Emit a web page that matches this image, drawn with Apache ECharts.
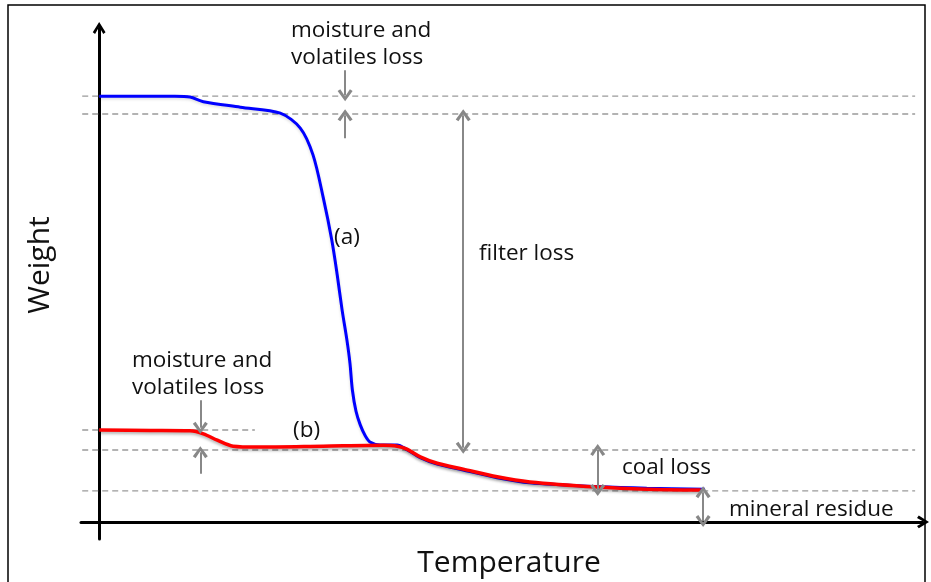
<!DOCTYPE html>
<html>
<head>
<meta charset="utf-8">
<script src="https://cdn.jsdelivr.net/npm/echarts@6/dist/echarts.min.js"></script>
<style>html,body{margin:0;padding:0;background:#fff;}#chart{width:931px;height:582px;}</style>
</head>
<body>
<div id="chart"></div>
<script>
// Temperature (arbitrary units) and weights (arbitrary units)
const tempA = [0, 12.5, 15.0, 17.2, 23.3, 29.9, 33.2, 35.3, 37.0, 38.4, 39.3, 40.1, 40.9, 41.4, 41.8, 42.4, 43.1, 43.9, 44.7, 46.4, 49.2, 50.8, 53.0, 55.8, 60.1, 65.7, 71.1, 82.2, 90.4, 100];
const weightA = [100, 100, 99.8, 98.7, 97.4, 96.0, 92.5, 86.2, 76.1, 66.2, 58.0, 49.8, 42.7, 37.3, 31.0, 26.0, 22.8, 20.3, 18.8, 18.1, 18.1, 17.0, 15.1, 13.6, 12.2, 10.4, 9.2, 8.3, 7.9, 7.7];
const tempB = [0, 8.4, 15.0, 17.2, 19.5, 22.1, 26.1, 37.0, 46.9, 49.2, 50.8, 53.0, 55.8, 60.1, 65.7, 71.1, 82.2, 90.4, 99.3];
const weightB = [21.6, 21.5, 21.4, 20.7, 19.2, 17.8, 17.6, 17.8, 18.0, 17.8, 17.1, 15.3, 13.8, 12.4, 10.6, 9.4, 8.2, 7.7, 7.5];
// dashed reference levels
const dashLevels = [100, 95.8, 16.9, 7.3];
const shortDashLevel = 21.6;
const dashStart = -2.8, dashEnd = 134.7, shortDashEnd = 25.7;
// annotation arrows: x, from, to, double-headed?
const arrowsX = [40.6, 40.6, 60.1, 16.7, 16.7, 82.3, 99.7];
const arrowsFrom = [106.1, 90.1, 95.5, 28.6, 11.3, 16.9, 7.0];
const arrowsTo = [100.2, 95.5, 17.4, 22.1, 16.4, 7.5, 0.2];
const arrowsDouble = [false, false, true, false, false, true, true];
const labels = ['moisture and', 'volatiles loss', '(a)', 'filter loss', 'moisture and', 'volatiles loss', '(b)', 'coal loss', 'mineral residue'];
const axisTitles = ['Temperature', 'Weight'];

const FONT = '"Open Sans", "Noto Sans", sans-serif';
const chevron = 'path://M0,8 L5,0 L10,8 L8.2,9.4 L5,3.8 L1.8,9.4 Z';

const series = [];
dashLevels.forEach((lv) => {
  series.push({type: 'line', data: [[dashStart, lv], [dashEnd, lv]], symbol: 'none', silent: true,
    lineStyle: {color: '#9a9a9a', width: 1.3, type: [6, 4]}, z: 1});
});
series.push({type: 'line', data: [[dashStart, shortDashLevel], [shortDashEnd, shortDashLevel]], symbol: 'none', silent: true,
  lineStyle: {color: '#9a9a9a', width: 1.3, type: [6, 4]}, z: 1});

series.push({type: 'line', name: '(a)', data: tempA.map((t, i) => [t, weightA[i]]), symbol: 'none', smooth: 0.3,
  lineStyle: {color: '#0000ff', width: 3, shadowColor: 'rgba(0,0,0,0.15)', shadowBlur: 3, shadowOffsetY: 1.5}, z: 3});
series.push({type: 'line', name: '(b)', data: tempB.map((t, i) => [t, weightB[i]]), symbol: 'none', smooth: 0.3,
  lineStyle: {color: '#ff0000', width: 3.5, shadowColor: 'rgba(0,0,0,0.3)', shadowBlur: 3, shadowOffsetY: 2}, z: 4});

series.push({type: 'line', data: [], silent: true,
  markLine: {silent: true, animation: false, label: {show: false},
    lineStyle: {color: '#888', width: 2, type: 'solid'},
    data: arrowsX.map((x, i) => [
      {coord: [x, arrowsFrom[i]], symbol: arrowsDouble[i] ? chevron : 'none', symbolSize: [15, 12]},
      {coord: [x, arrowsTo[i]], symbol: chevron, symbolSize: [15, 12]}
    ])
  }, z: 2});

const textPos = [[291, 31], [291, 58], [334, 238], [479, 254], [132, 361], [132, 388], [293, 431], [622, 468], [729, 510]];
const graphics = labels.map((t, i) => ({type: 'text', x: textPos[i][0], y: textPos[i][1],
  style: {text: t, font: '22.5px ' + FONT, fill: '#111', align: 'left', verticalAlign: 'middle'}, z: 10}));
graphics.push({type: 'text', x: 509, y: 563, style: {text: axisTitles[0], font: '30px ' + FONT, fill: '#111', align: 'center', verticalAlign: 'middle'}});
graphics.push({type: 'text', x: 40, y: 265, rotation: Math.PI / 2, style: {text: axisTitles[1], font: '30px ' + FONT, fill: '#111', align: 'center', verticalAlign: 'middle'}});
graphics.push({type: 'rect', shape: {x: 8, y: 5, width: 917, height: 600}, style: {fill: 'none', stroke: '#000', lineWidth: 1.5}, silent: true});

const chart = echarts.init(document.getElementById('chart'), null, {renderer: 'canvas'});
chart.setOption({
  animation: false,
  backgroundColor: '#fff',
  grid: {left: 81, right: 8, top: 28, bottom: 43},
  xAxis: {type: 'value', min: -3, max: 136,
    axisLine: {onZero: true, lineStyle: {color: '#000', width: 3}, symbol: ['none', chevron], symbolSize: [16, 12]},
    axisTick: {show: false}, axisLabel: {show: false}, splitLine: {show: false}},
  yAxis: {type: 'value', min: -4, max: 116,
    axisLine: {show: true, onZero: true, lineStyle: {color: '#000', width: 3}, symbol: ['none', chevron], symbolSize: [16, 12]},
    axisTick: {show: false}, axisLabel: {show: false}, splitLine: {show: false}},
  series: series,
  graphic: graphics
});
</script>
</body>
</html>
